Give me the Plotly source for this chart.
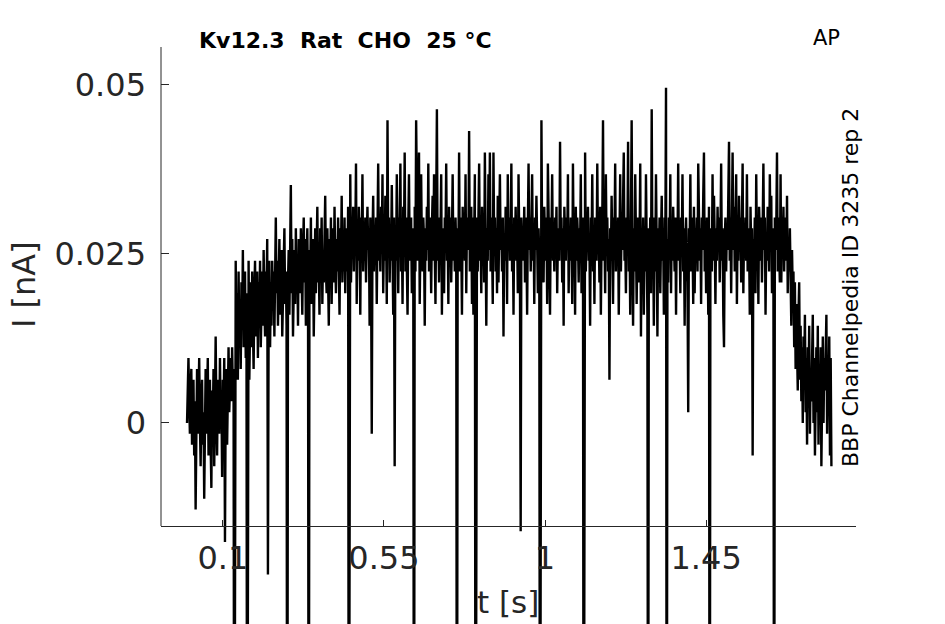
import numpy as np
import plotly.graph_objects as go

# ---------------- data ----------------
t_start_s = 0.0
t_end_s = 1.8

current_pA = [
    # baseline, t 0 - 0.13 s
    0.0, 6.4, 9.6, 3.2, -1.6, 4.8, 8.0, -3.2, 1.6, 6.4,
    -4.8, 3.2, -12.8, 1.6, 8.0, -1.6, 4.8, 9.6, 0.0, -6.4,
    3.2, 6.4, -3.2, 1.6, -11.2, 4.8, 8.0, -1.6, 3.2, 9.6,
    -4.8, 1.6, 6.4, -3.2, -9.6, 4.8, 0.0, 8.0, -6.4, 3.2,
    12.8, 1.6, -4.8, 6.4, 3.2, -1.6, 9.6, 0.0, 4.8, -8.0,
    6.4, 1.6, 9.6, -17.6, 3.2, 8.0, -3.2, 4.8, 11.2, 1.6,
    6.4, 9.6, 3.2, 11.2, 4.8, 8.0, -80.0, 14.4, 24.0, 9.6,
    # rise, t 0.14 - 0.30 s
    19.2, 6.4, 22.4, 12.8, 17.6, 8.0, 20.8, 14.4, 25.6, 11.2,
    16.0, 22.4, 9.6, 19.2, -80.0, 12.8, 24.0, 6.4, 17.6, 20.8,
    11.2, 22.4, 14.4, 8.0, 19.2, 24.0, 12.8, 17.6, 22.4, 9.6,
    20.8, 16.0, 24.0, 11.2, 19.2, 22.4, 14.4, 25.6, 17.6, 12.8,
    22.4, 19.2, 27.2, -22.4, 16.0, 24.0, 11.2, 20.8, 14.4, 24.0,
    17.6, 22.4, 12.8, 25.6, 30.4, 19.2, 24.0, 14.4, 20.8, 27.2,
    16.0, 22.4, 25.6, 12.8, 19.2, 24.0, 28.8, 17.6, 22.4, 14.4,
    -80.0, 20.8, 25.6, 16.0, 24.0, 35.2, 19.2, 27.2, 12.8, 22.4,
    # early plateau, t 0.30 - 0.46 s
    25.6, 17.6, 28.8, 20.8, 24.0, 14.4, 27.2, 22.4, 19.2, 28.8,
    24.0, 16.0, 25.6, 30.4, 20.8, 27.2, 14.4, 22.4, 28.8, 19.2,
    -80.0, 25.6, 20.8, 30.4, 17.6, 24.0, 27.2, 12.8, 22.4, 28.8,
    19.2, 25.6, 32.0, 20.8, 24.0, 16.0, 28.8, 22.4, 30.4, 17.6,
    25.6, 20.8, 27.2, 33.6, 22.4, 19.2, 28.8, 24.0, 14.4, 27.2,
    22.4, 30.4, 17.6, 25.6, 28.8, 20.8, 32.0, 24.0, 19.2, 27.2,
    22.4, 30.4, 25.6, 16.0, 28.8, 24.0, 33.6, 20.8, 27.2, 22.4,
    30.4, 19.2, 25.6, 28.8, 22.4, 32.0, -80.0, 24.0, 36.8, 20.8,
    # plateau, t 0.46 - 1.68 s
    28.8, 25.6, 32.0, 22.4, 30.4, 27.2, 38.4, 17.6, 28.8, 24.0,
    32.0, 27.2, 16.0, 30.4, 25.6, 36.8, 22.4, 28.8, 24.0, 30.4,
    20.8, 27.2, 32.0, 25.6, 28.8, 14.4, 30.4, 24.0, -1.6, 27.2,
    33.6, 22.4, 28.8, 25.6, 30.4, 17.6, 27.2, 38.4, 24.0, 28.8,
    22.4, 32.0, 25.6, 36.8, 19.2, 27.2, 24.0, 33.6, 28.8, 17.6,
    44.8, 25.6, 30.4, 20.8, 28.8, 24.0, 35.2, 27.2, 16.0, 30.4,
    -6.4, 28.8, 24.0, 36.8, 25.6, 19.2, 30.4, 27.2, 38.4, 22.4,
    28.8, 17.6, 32.0, 27.2, 40.0, 22.4, 30.4, 25.6, 16.0, 28.8,
    36.8, 24.0, 27.2, 30.4, 19.2, 28.8, 25.6, -80.0, 32.0, 22.4,
    44.8, 27.2, 24.0, 30.4, 40.0, 17.6, 28.8, 36.8, 25.6, 22.4,
    30.4, 27.2, 14.4, 28.8, 24.0, 32.0, 25.6, 38.4, 22.4, 30.4,
    27.2, 19.2, 28.8, 33.6, 24.0, 36.8, 25.6, 17.6, 32.0, 46.4,
    24.0, 28.8, 20.8, 30.4, 27.2, 36.8, 16.0, 28.8, 25.6, 19.2,
    30.4, 27.2, 38.4, 24.0, 28.8, 17.6, 32.0, 25.6, 30.4, 20.8,
    27.2, 36.8, 24.0, 28.8, 22.4, 30.4, 25.6, -80.0, 28.8, 24.0,
    40.0, 22.4, 30.4, 27.2, 16.0, 32.0, 25.6, 28.8, 24.0, 36.8,
    19.2, 30.4, 27.2, 25.6, 43.2, 22.4, 28.8, 32.0, 17.6, 30.4,
    16.0, 27.2, 36.8, -80.0, 25.6, 30.4, 22.4, 28.8, 38.4, 24.0,
    27.2, 19.2, 32.0, 25.6, 28.8, 20.8, 40.0, 27.2, 14.4, 28.8,
    24.0, 36.8, 25.6, 40.0, 22.4, 30.4, 27.2, 17.6, 40.0, 25.6,
    30.4, 22.4, 28.8, 19.2, 33.6, 20.8, 27.2, 36.8, 25.6, 28.8,
    22.4, 30.4, 12.8, 27.2, 24.0, 32.0, 28.8, 17.6, 36.8, 25.6,
    30.4, 24.0, 27.2, 38.4, 22.4, 28.8, 16.0, 30.4, 25.6, 32.0,
    24.0, 28.8, 19.2, 36.8, 27.2, 22.4, -16.0, 30.4, 25.6, 28.8,
    24.0, 32.0, 20.8, 30.4, 27.2, 16.0, 28.8, 38.4, 25.6, 30.4,
    22.4, 27.2, 36.8, 24.0, 28.8, 17.6, 30.4, 25.6, 33.6, 27.2,
    19.2, 28.8, 24.0, -80.0, 30.4, 44.8, 25.6, 28.8, 20.8, 32.0,
    27.2, 24.0, 30.4, 17.6, 38.4, 28.8, 25.6, 16.0, 30.4, 27.2,
    36.8, 24.0, 28.8, 22.4, 30.4, 25.6, 32.0, 19.2, 27.2, 28.8,
    24.0, 41.6, 25.6, 30.4, 20.8, 28.8, 14.4, 32.0, 27.2, 24.0,
    30.4, 25.6, 36.8, 19.2, 28.8, 24.0, 30.4, 27.2, 17.6, 38.4,
    25.6, 28.8, 16.0, 32.0, 24.0, 30.4, 27.2, 20.8, 28.8, 25.6,
    36.8, 19.2, 27.2, 30.4, -80.0, 24.0, 40.0, 22.4, 28.8, 25.6,
    32.0, 24.0, 27.2, 14.4, 30.4, 25.6, 36.8, 22.4, 28.8, 17.6,
    30.4, 27.2, 24.0, 38.4, 25.6, 28.8, 20.8, 32.0, 16.0, 27.2,
    30.4, 44.8, 24.0, 28.8, 19.2, 36.8, 25.6, 30.4, 22.4, 27.2,
    6.4, 28.8, 24.0, 33.6, 25.6, 17.6, 30.4, 27.2, 38.4, 22.4,
    28.8, 24.0, 30.4, 16.0, 27.2, 36.8, 22.4, 28.8, 25.6, 33.6,
    40.0, 24.0, 27.2, 19.2, 30.4, 25.6, 41.6, 22.4, 28.8, 16.0,
    30.4, 44.8, 25.6, 14.4, 28.8, 22.4, 36.8, 24.0, 17.6, 27.2,
    30.4, 20.8, 25.6, 38.4, 12.8, 28.8, 24.0, 30.4, 16.0, 27.2,
    22.4, 36.8, 25.6, 16.0, -80.0, 28.8, 24.0, 30.4, 19.2, 46.4,
    24.0, 27.2, 14.4, 30.4, 22.4, 36.8, 25.6, 12.8, 28.8, 24.0,
    30.4, 19.2, 27.2, 33.6, 24.0, 28.8, 16.0, 30.4, 25.6, 49.6,
    -80.0, 27.2, 20.8, 30.4, 25.6, 36.8, 19.2, 28.8, 24.0, 32.0,
    27.2, 22.4, 30.4, 16.0, 28.8, 25.6, 38.4, 24.0, 27.2, 19.2,
    30.4, 25.6, 36.8, 22.4, 28.8, 14.4, 27.2, 30.4, 24.0, 20.8,
    1.6, 28.8, 25.6, 36.8, 22.4, 30.4, 27.2, 17.6, 32.0, 19.2,
    28.8, 25.6, 30.4, 22.4, 38.4, 27.2, 24.0, 28.8, 17.6, 30.4,
    25.6, 33.6, 40.0, 22.4, 28.8, 19.2, 30.4, 27.2, 16.0, 32.0,
    -80.0, 25.6, 28.8, 22.4, 36.8, 24.0, 33.6, 27.2, 17.6, 28.8,
    24.0, 32.0, 25.6, 30.4, 20.8, 27.2, 38.4, 24.0, 28.8, 16.0,
    11.2, 27.2, 30.4, 22.4, 28.8, 25.6, 36.8, 41.6, 24.0, 30.4,
    19.2, 28.8, 40.0, 25.6, 32.0, 22.4, 27.2, 36.8, 17.6, 28.8,
    24.0, 33.6, 25.6, 30.4, 20.8, 27.2, 38.4, 19.2, 28.8, 25.6,
    30.4, 24.0, 36.8, 22.4, 28.8, 27.2, 16.0, 32.0, 25.6, 28.8,
    -4.8, 27.2, 24.0, 30.4, 19.2, 36.8, 25.6, 28.8, 17.6, 32.0,
    27.2, 24.0, 30.4, 20.8, 28.8, 38.4, 25.6, 30.4, 16.0, 27.2,
    24.0, 32.0, 28.8, 22.4, 36.8, 25.6, 33.6, 19.2, 28.8, 24.0,
    -80.0, 30.4, 25.6, 28.8, 40.0, 22.4, 30.4, 27.2, 20.8, 36.8,
    20.8, 28.8, 25.6, 32.0, 22.4, 30.4, 27.2, 24.0, 33.6, 19.2,
    # decay, t 1.68 - 1.80 s
    27.2, 22.4, 28.8, 24.0, 14.4, 25.6, 19.2, 22.4, 11.2, 20.8,
    8.0, 17.6, 12.8, 4.8, 16.0, 20.8, 6.4, 14.4, 3.2, 11.2,
    0.0, 12.8, 6.4, 16.0, 1.6, 9.6, -3.2, 11.2, 4.8, 14.4,
    -1.6, 8.0, 3.2, 12.8, 16.0, 0.0, 9.6, -4.8, 6.4, 11.2,
    1.6, 14.4, -3.2, 8.0, 3.2, 11.2, -6.4, 6.4, 12.8, 0.0,
    9.6, 4.8, 14.4, 16.0, -1.6, 8.0, 3.2, 12.8, -4.8, 9.6,
    -6.4,
]

x_tick_vals = [0.1, 0.55, 1.0, 1.45]
x_tick_text = ["0.1", "0.55", "1", "1.45"]
y_tick_vals = [0.0, 0.025, 0.05]
y_tick_text = ["0", "0.025", "0.05"]

title_text = "Kv12.3\u00a0\u00a0Rat\u00a0\u00a0CHO\u00a0\u00a025 °C"
corner_text = "AP"
side_text = "BBP Channelpedia ID 3235 rep 2"

# ---------------- figure ----------------
current_nA = np.array(current_pA) / 1000.0
t = np.linspace(t_start_s, t_end_s, len(current_nA))

W, H = 945, 624
OFF = 8                      # page offset of the plot div (body margin)
ML, MR, MT, MB = 161 - OFF, 945 - (856 - OFF), 47 - OFF, 0
plot_w = W - ML - MR
plot_h = H - MT - MB
axis_page_px = 526
x_axis_pos = (H - (axis_page_px - OFF)) / plot_h

AX = "#262626"
FONT = "DejaVu Sans"

fig = go.Figure()
fig.add_trace(go.Scatter(x=t, y=current_nA, mode="lines",
                         line=dict(color="black", width=2.4),
                         hoverinfo="skip", showlegend=False))

fig.update_layout(
    width=W, height=H,
    margin=dict(l=ML, r=MR, t=MT, b=MB, pad=0),
    paper_bgcolor="white", plot_bgcolor="white",
    font=dict(family=FONT, color=AX),
    showlegend=False,
    xaxis=dict(range=[-0.0727, 1.8687], anchor="free", position=x_axis_pos,
               showline=True, linecolor=AX, linewidth=1, mirror=False,
               showgrid=False, zeroline=False,
               ticks="inside", ticklen=6, tickwidth=1, tickcolor=AX,
               tickvals=x_tick_vals, ticktext=x_tick_text,
               tickfont=dict(size=32, color=AX, family=FONT),
               ticklabelstandoff=4),
    yaxis=dict(range=[-0.03092, 0.05562], domain=[0, 1],
               showline=False, showgrid=False, zeroline=False,
               ticks="inside", ticklen=8, tickwidth=1, tickcolor=AX,
               tickvals=y_tick_vals, ticktext=y_tick_text,
               tickfont=dict(size=32, color=AX, family=FONT),
               ticklabelstandoff=14),
)

# y axis line only from the x axis upwards
fig.add_shape(type="line", xref="paper", yref="paper",
              x0=0, x1=0, y0=x_axis_pos, y1=1,
              line=dict(color=AX, width=1))

def px_x(page_px):
    return (page_px - OFF - ML) / plot_w

def px_y(page_py):
    return (H - MB - (page_py - OFF)) / plot_h

fig.add_annotation(text="I [nA]", xref="paper", yref="paper",
                   x=px_x(24), y=px_y(285), textangle=-90, showarrow=False,
                   xanchor="center", yanchor="middle",
                   font=dict(size=32, color=AX, family=FONT))
fig.add_annotation(text="t [s]", xref="paper", yref="paper",
                   x=px_x(508), y=px_y(602), showarrow=False,
                   xanchor="center", yanchor="middle",
                   font=dict(size=31, color=AX, family=FONT))
fig.add_annotation(text="<b>" + title_text + "</b>", xref="paper", yref="paper",
                   x=px_x(197), y=px_y(40), showarrow=False,
                   xanchor="left", yanchor="middle",
                   font=dict(size=22, color="black", family=FONT))
fig.add_annotation(text=corner_text, xref="paper", yref="paper",
                   x=px_x(826), y=px_y(38), showarrow=False,
                   xanchor="center", yanchor="middle",
                   font=dict(size=21, color="black", family=FONT))
fig.add_annotation(text=side_text, xref="paper", yref="paper",
                   x=px_x(850), y=px_y(288), textangle=-90, showarrow=False,
                   xanchor="center", yanchor="middle",
                   font=dict(size=22, color="black", family=FONT))

fig.write_html("out.html")
